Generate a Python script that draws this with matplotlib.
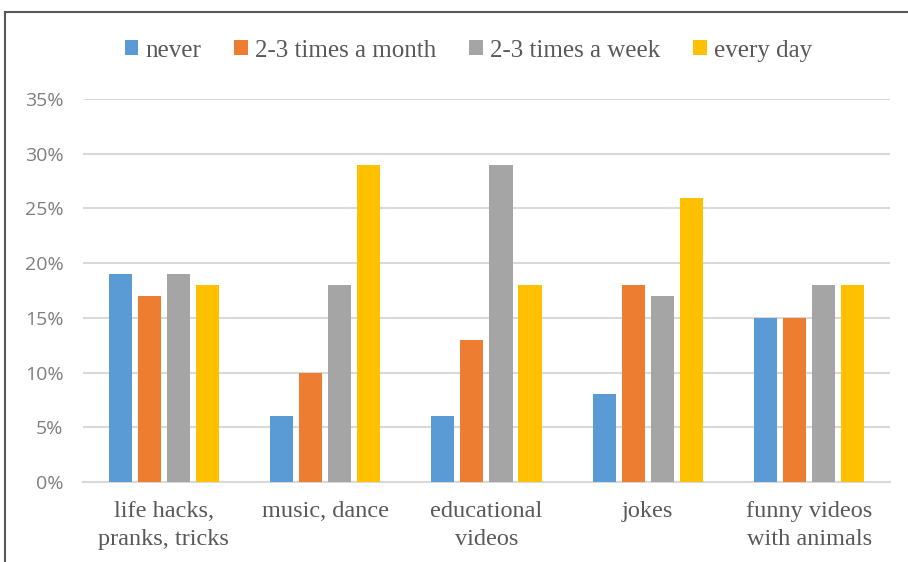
import matplotlib.pyplot as plt
from matplotlib.lines import Line2D
from matplotlib.ticker import PercentFormatter
import numpy as np

categories = ["life hacks,\npranks, tricks", "music, dance", "educational\nvideos",
              "jokes", "funny videos\nwith animals"]
series = ["never", "2-3 times a month", "2-3 times a week", "every day"]
never = [0.19, 0.06, 0.06, 0.08, 0.15]
monthly = [0.17, 0.10, 0.13, 0.18, 0.15]
weekly = [0.19, 0.18, 0.29, 0.17, 0.18]
daily = [0.18, 0.29, 0.18, 0.26, 0.18]
yticks = [0, 0.05, 0.10, 0.15, 0.20, 0.25, 0.30, 0.35]

colors = ["#5B9BD5", "#ED7D31", "#A5A5A5", "#FFC000"]
serif = "Liberation Serif"

fig = plt.figure(figsize=(9.08, 5.62), dpi=100)
ax = fig.add_axes([0.0914, 0.1423, 0.8887, 0.6815])

x = np.arange(len(categories))
slot = 0.18
width = 0.143
for i, (vals, name) in enumerate(zip([never, monthly, weekly, daily], series)):
    ax.bar(x + (i - 1.5) * slot, vals, width, color=colors[i], label=name, zorder=3)

ax.set_xlim(-0.5, len(categories) - 0.5)
ax.set_ylim(0, 0.35)
ax.set_yticks(yticks)
ax.yaxis.set_major_formatter(PercentFormatter(1.0, decimals=0))
ax.grid(axis="y", color="#D9D9D9", linewidth=1.5, zorder=0)
ax.set_axisbelow(True)
for side in ["left", "right", "top"]:
    ax.spines[side].set_visible(False)
ax.spines["bottom"].set_color("#D9D9D9")
ax.spines["bottom"].set_linewidth(1.5)
ax.tick_params(axis="both", length=0)
ax.tick_params(axis="y", pad=14, labelsize=14, labelcolor="#7F7F7F")
for lbl in ax.get_yticklabels():
    lbl.set_fontfamily("Open Sans")

ax.set_xticks(x)
ax.set_xticklabels(categories, fontfamily=serif, fontsize=17.5, color="#595959",
                   linespacing=1.4)
ax.tick_params(axis="x", pad=14)

fig.legend(loc="center", bbox_to_anchor=(0.516, 0.91), ncol=4, frameon=False,
           prop={"family": serif, "size": 18}, labelcolor="#595959",
           handlelength=0.55, handleheight=0.55, handletextpad=0.3,
           columnspacing=1.3)

# chart frame
fig.add_artist(Line2D([0.006, 1.0], [0.979, 0.979], transform=fig.transFigure,
                      color="#595959", linewidth=1.5))
fig.add_artist(Line2D([0.006, 0.006], [0.979, 0.0], transform=fig.transFigure,
                      color="#595959", linewidth=1.5))

fig.savefig("out.png", dpi=100)
